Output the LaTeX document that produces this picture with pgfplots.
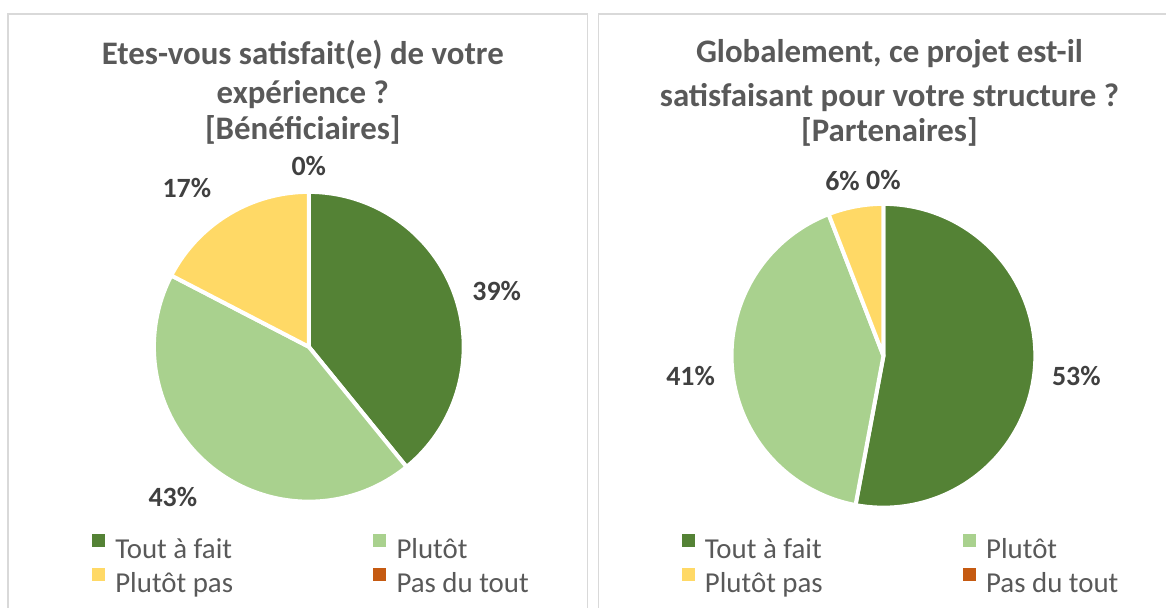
\documentclass[border=0pt]{standalone}
\usepackage{pgfplots}
\pgfplotsset{compat=1.18}
\usepackage{fontspec}
\setmainfont{Carlito}
\definecolor{cDark}{HTML}{548235}
\definecolor{cLight}{HTML}{A9D18E}
\definecolor{cYel}{HTML}{FFD966}
\definecolor{cOr}{HTML}{C55A11}
\definecolor{tTitle}{HTML}{595959}
\definecolor{tLab}{HTML}{404040}
\definecolor{bord}{HTML}{D9D9D9}

% cx, cy (pixels from top), radius, offset (%), share (%), colour
\newcommand{\slice}[6]{%
  \pgfmathsetmacro{\sa}{90-3.6*(#4)}%
  \pgfmathsetmacro{\ea}{90-3.6*(#4+#5)}%
  \addplot[forget plot, fill=#6, draw=white, line width=4bp, line join=round,
    domain=\ea:\sa, samples=90]
    ({#1+(#3)*cos(x)},{-(#2)+(#3)*sin(x)}) -- (axis cs:#1,-#2) -- cycle;%
}

\pgfplotsset{
  panel/.style={
    width=1167bp, height=608bp, scale only axis,
    xmin=0, xmax=1167, ymin=-608, ymax=0,
    hide axis, clip=false, at={(0,0)}, anchor=south west,
    legend image code/.code={\fill[##1] (0bp,5bp) rectangle (12bp,17bp);},
    legend columns=2,
    legend cell align=left,
    legend style={draw=none, fill=none, inner sep=0pt, outer sep=0pt,
      anchor=north west, row sep=2.5bp,
      font=\fontsize{29}{34}\selectfont, text=tTitle,
      nodes={inner sep=0pt, text height=22bp, text depth=7bp},
      /tikz/every odd column/.append style={column sep=11bp},
      /tikz/every even column/.append style={column sep=0bp}},
  },
}
\newcommand{\ttl}{\bfseries\fontsize{33}{38}\selectfont}
\newcommand{\lab}{\bfseries\fontsize{28}{33}\selectfont}

\begin{document}
\begin{tikzpicture}
% ---------------- Left panel ----------------
\begin{axis}[panel,
  legend style={at={(92/1167,1-534/608)}}]
  \path (axis cs:0,0) rectangle (axis cs:1167,-608);
  \draw[bord, line width=1.5bp] (axis cs:8,-608) -- (axis cs:8,-14) -- (axis cs:588,-14) -- (axis cs:588,-608);
  \slice{309}{347}{155}{0}{39.13}{cDark}
  \slice{309}{347}{155}{39.13}{43.48}{cLight}
  \slice{309}{347}{155}{82.61}{17.39}{cYel}
  \addlegendimage{cDark}\addlegendentry{\makebox[258bp][l]{Tout à fait}}
  \addlegendimage{cLight}\addlegendentry{Plutôt}
  \addlegendimage{cYel}\addlegendentry{\makebox[258bp][l]{Plutôt pas}}
  \addlegendimage{cOr}\addlegendentry{Pas du tout}
  \node[font=\ttl, text=tTitle, anchor=base] at (axis cs:303,-65) {Etes-vous satisfait(e) de votre};
  \node[font=\ttl, text=tTitle, anchor=base] at (axis cs:303,-104) {expérience ?};
  \node[font=\ttl, text=tTitle, anchor=base] at (axis cs:303,-140) {[Bénéficiaires]};
  \node[font=\lab, text=tLab] at (axis cs:497,-291) {39\%};
  \node[font=\lab, text=tLab] at (axis cs:173,-497) {43\%};
  \node[font=\lab, text=tLab] at (axis cs:187,-188) {17\%};
  \node[font=\lab, text=tLab] at (axis cs:309,-166) {0\%};
\end{axis}
% ---------------- Right panel ----------------
\begin{axis}[panel,
  legend style={at={(682/1167,1-534/608)}}]
  \draw[bord, line width=1.5bp] (axis cs:599,-608) -- (axis cs:599,-14) -- (axis cs:1167,-14);
  \slice{884}{356}{152}{0}{52.94}{cDark}
  \slice{884}{356}{152}{52.94}{41.18}{cLight}
  \slice{884}{356}{152}{94.12}{5.88}{cYel}
  \addlegendimage{cDark}\addlegendentry{\makebox[258bp][l]{Tout à fait}}
  \addlegendimage{cLight}\addlegendentry{Plutôt}
  \addlegendimage{cYel}\addlegendentry{\makebox[258bp][l]{Plutôt pas}}
  \addlegendimage{cOr}\addlegendentry{Pas du tout}
  \node[font=\ttl, text=tTitle, anchor=base] at (axis cs:890,-63) {Globalement, ce projet est-il};
  \node[font=\ttl, text=tTitle, anchor=base] at (axis cs:890,-107) {satisfaisant pour votre structure ?};
  \node[font=\ttl, text=tTitle, anchor=base] at (axis cs:890,-142) {[Partenaires]};
  \node[font=\lab, text=tLab] at (axis cs:1077,-376) {53\%};
  \node[font=\lab, text=tLab] at (axis cs:691,-376) {41\%};
  \node[font=\lab, text=tLab] at (axis cs:843,-181) {6\%};
  \node[font=\lab, text=tLab] at (axis cs:884,-180) {0\%};
\end{axis}
\end{tikzpicture}
\end{document}
